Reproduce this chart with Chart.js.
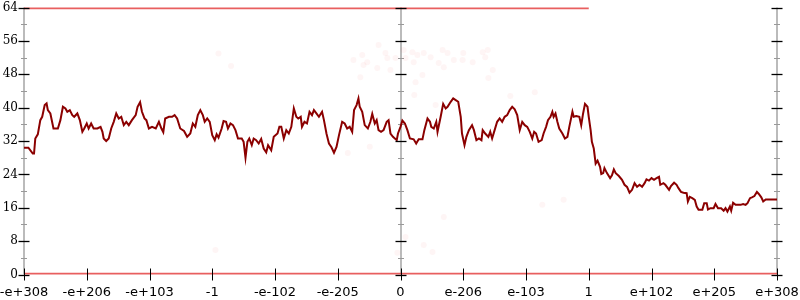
<!DOCTYPE html>
<html>
<head>
<meta charset="utf-8">
<script src="https://cdn.jsdelivr.net/npm/chart.js@4/dist/chart.umd.min.js"></script>
<style>
  body{margin:0;background:#fff}
</style>
</head>
<body>
<canvas id="grafica" width="800" height="300"></canvas>
<script>
let xLabels = ['-e+308','-e+206','-e+103','-1','-e-102','-e-205','0','e-206','e-103','1','e+102','e+205','e+308']
let yTicks = [0,8,16,24,32,40,48,56,64]

// the dark red line, x in label steps (-6 .. 6)
let lineX = [
  -6.00,-5.93,-5.86,-5.84,-5.82,-5.78,-5.74,-5.71,-5.67,-5.64,
  -5.62,-5.58,-5.53,-5.46,-5.42,-5.38,-5.34,-5.31,-5.27,-5.23,
  -5.20,-5.15,-5.11,-5.07,-5.04,-5.00,-4.97,-4.93,-4.89,-4.83,
  -4.78,-4.75,-4.73,-4.69,-4.65,-4.61,-4.57,-4.53,-4.49,-4.45,
  -4.41,-4.37,-4.33,-4.28,-4.22,-4.19,-4.15,-4.12,-4.08,-4.05,
  -4.01,-3.96,-3.90,-3.85,-3.81,-3.78,-3.75,-3.69,-3.64,-3.60,
  -3.56,-3.51,-3.45,-3.40,-3.35,-3.31,-3.27,-3.23,-3.19,-3.15,
  -3.12,-3.08,-3.04,-3.00,-2.96,-2.93,-2.90,-2.85,-2.82,-2.78,
  -2.75,-2.71,-2.67,-2.63,-2.59,-2.53,-2.50,-2.47,-2.44,-2.41,
  -2.37,-2.34,-2.30,-2.26,-2.22,-2.18,-2.14,-2.11,-2.06,-2.02,
  -1.96,-1.93,-1.90,-1.86,-1.82,-1.78,-1.74,-1.70,-1.66,-1.63,
  -1.59,-1.57,-1.53,-1.49,-1.45,-1.41,-1.38,-1.34,-1.30,-1.25,
  -1.22,-1.18,-1.14,-1.10,-1.06,-1.02,-0.98,-0.93,-0.89,-0.85,
  -0.81,-0.77,-0.74,-0.70,-0.67,-0.65,-0.61,-0.57,-0.52,-0.48,
  -0.45,-0.41,-0.38,-0.35,-0.31,-0.27,-0.22,-0.19,-0.16,-0.12,
  -0.06,-0.04,0.00,0.03,0.07,0.11,0.15,0.21,0.25,0.29,
  0.35,0.38,0.43,0.47,0.49,0.53,0.57,0.59,0.64,0.68,
  0.72,0.75,0.80,0.84,0.88,0.92,0.96,0.98,1.02,1.05,
  1.09,1.14,1.17,1.21,1.25,1.29,1.31,1.35,1.40,1.43,
  1.46,1.50,1.54,1.58,1.62,1.66,1.70,1.74,1.78,1.82,
  1.86,1.90,1.94,1.98,2.02,2.06,2.10,2.13,2.16,2.20,
  2.25,2.28,2.32,2.35,2.39,2.42,2.44,2.47,2.50,2.53,
  2.58,2.62,2.66,2.69,2.74,2.76,2.80,2.85,2.88,2.91,
  2.94,2.98,3.00,3.03,3.05,3.08,3.11,3.14,3.18,3.20,
  3.23,3.25,3.29,3.34,3.37,3.40,3.43,3.48,3.53,3.57,
  3.61,3.65,3.69,3.73,3.77,3.81,3.85,3.89,3.92,3.96,
  4.00,4.04,4.08,4.12,4.14,4.19,4.22,4.28,4.31,4.36,
  4.40,4.43,4.47,4.51,4.56,4.58,4.61,4.65,4.69,4.72,
  4.75,4.81,4.84,4.88,4.90,4.94,4.99,5.02,5.06,5.11,
  5.15,5.18,5.21,5.25,5.27,5.30,5.34,5.38,5.42,5.46,
  5.50,5.53,5.57,5.60,5.64,5.68,5.71,5.75,5.78,5.82,6.00
]
let lineY = [
  30.4,30.4,29.0,29.0,32.6,33.6,37.0,37.8,40.6,41.0,
  39.4,38.6,35.0,35.0,37.0,40.2,39.8,39.0,39.4,38.2,
  37.8,38.6,37.0,34.2,35.0,36.2,35.0,36.2,35.0,35.0,
  35.4,34.2,32.6,32.0,32.6,35.0,36.6,38.6,37.4,37.8,
  35.8,36.6,35.8,37.0,38.2,40.2,41.3,39.0,37.4,37.0,
  35.0,35.4,35.0,36.6,35.0,34.1,37.4,37.8,37.8,38.2,
  37.4,35.0,34.4,33.0,33.8,36.2,35.4,38.2,39.4,38.2,
  36.6,37.4,36.6,33.4,32.2,33.6,32.8,35.0,36.8,36.6,
  35.0,36.2,35.8,34.6,32.6,32.6,31.8,28.0,31.8,32.6,
  31.0,32.6,32.2,31.4,32.5,30.2,29.3,31.0,29.8,33.0,
  33.8,35.4,35.4,32.6,34.6,33.8,35.4,39.8,37.8,37.4,
  37.8,35.4,36.6,36.2,39.0,38.2,39.4,38.6,37.8,39.0,
  37.0,33.8,31.4,30.5,29.2,30.6,33.4,36.6,36.2,35.0,
  35.4,34.2,39.4,40.6,42.2,40.2,39.0,35.8,35.0,36.6,
  38.5,36.2,37.0,34.6,34.2,34.6,36.6,37.0,33.8,33.0,
  32.2,33.8,35.4,36.9,36.2,34.6,32.6,32.4,31.4,32.4,
  32.4,34.6,37.4,36.6,35.4,35.0,36.6,34.2,37.8,40.9,
  39.8,40.2,41.4,42.2,41.8,41.4,37.8,33.8,31.0,33.0,
  34.6,35.8,34.6,32.2,32.6,32.2,34.6,33.8,33.0,34.2,
  32.6,34.6,36.6,37.4,36.6,37.8,38.2,39.4,40.2,39.6,
  38.2,34.6,36.6,35.8,35.4,34.2,32.6,34.2,33.8,31.8,
  32.2,33.8,35.4,37.0,37.8,39.0,37.8,38.6,36.6,35.0,
  33.8,32.6,33.0,35.4,39.0,37.8,38.0,37.8,35.8,38.6,
  40.9,40.2,37.8,34.6,31.8,30.2,26.6,27.3,25.8,24.1,
  24.3,25.5,24.3,23.1,23.8,25.2,24.3,23.6,22.7,21.5,
  21.0,19.6,20.3,21.9,21.0,21.5,21.0,21.9,22.8,22.5,
  23.1,22.7,23.1,23.4,21.5,21.9,21.5,20.3,21.2,22.0,
  21.5,20.7,19.8,19.6,19.5,17.5,18.6,18.3,17.9,16.3,
  15.5,15.5,17.1,17.1,15.6,15.9,15.9,16.9,15.9,15.9,
  15.3,15.9,15.1,16.3,15.3,17.2,16.7,16.7,16.7,16.9,
  16.7,17.1,18.3,18.5,18.8,19.8,19.3,18.5,17.5,18.0,18.0
]

// faint pink scatter
let dotX = [-0.75,-0.61,-0.59,-0.53,-0.35,-0.37,-0.24,-0.21,-0.16,-0.08,0.05,0.08,0.19,0.21,0.27,0.35,0.24,0.37,0.48,0.61,
  0.67,0.75,0.69,0.85,0.99,1.00,1.15,1.31,1.39,1.35,1.47,1.40,-0.64,-0.84,-0.49,0.22,0.56,1.75,2.14,0.08,
  0.37,0.51,-0.05,2.60,2.26,0.69,-2.95,-2.90,-2.70]
let dotY = [51.4,52.6,50.2,50.9,55.0,49.5,53.1,51.9,49.0,51.9,53.8,51.9,53.3,50.9,52.6,47.8,46.1,53.1,52.1,50.7,
  53.8,53.1,49.7,51.4,51.4,53.1,50.9,53.3,53.8,52.1,49.0,47.1,47.3,29.1,30.6,43.0,40.6,42.8,43.7,9.0,
  7.1,5.4,5.2,17.9,16.7,13.8,5.9,53.0,50.0]

// the dense pink bands at the top and bottom
let topBandX = [-6, 3]
let topBandY = [64, 64]
let bottomBandX = [-6, 6]
let bottomBandY = [0, 0]

function pts(xs, ys){
  return xs.map((x,i)=>({x:x, y:ys[i]}))
}

// gray axes at -6, 0, 6 go under the data, the black ticks on top
const axesPlugin = {
  id: 'axes',
  beforeDatasetsDraw(chart){
    let ctx = chart.ctx
    let sx = chart.scales.x, sy = chart.scales.y
    let top = sy.getPixelForValue(64), bot = sy.getPixelForValue(0)
    ctx.save();
    [-6, 0, 6].forEach(v => {
      let px = Math.round(sx.getPixelForValue(v))
      ctx.strokeStyle = '#bbbbbb'
      ctx.lineWidth = 2
      ctx.beginPath(); ctx.moveTo(px, top); ctx.lineTo(px, bot); ctx.stroke()
      for (let t = 4; t < 64; t += 8) {
        let py = Math.round(sy.getPixelForValue(t)) + 0.5
        ctx.strokeStyle = '#999'
        ctx.lineWidth = 1
        ctx.beginPath(); ctx.moveTo(px - 3, py); ctx.lineTo(px + 3, py); ctx.stroke()
      }
    })
    ctx.restore()
  },
  afterDatasetsDraw(chart){
    let ctx = chart.ctx
    let sx = chart.scales.x, sy = chart.scales.y
    let bot = sy.getPixelForValue(0)
    ctx.save();
    [-6, 0, 6].forEach(v => {
      let px = Math.round(sx.getPixelForValue(v))
      yTicks.forEach(t => {
        let py = Math.round(sy.getPixelForValue(t)) + 0.5
        ctx.strokeStyle = '#000'
        ctx.lineWidth = 1.3
        ctx.beginPath(); ctx.moveTo(px - 5.5, py); ctx.lineTo(px + 5.5, py); ctx.stroke()
      })
    })
    xLabels.forEach((l, i) => {
      let px = Math.round(sx.getPixelForValue(i - 6)) + 0.5
      ctx.strokeStyle = '#000'
      ctx.lineWidth = 1
      ctx.beginPath(); ctx.moveTo(px, bot - 6); ctx.lineTo(px, bot + 6); ctx.stroke()
    })
    ctx.restore()
  }
}

let canvas = document.getElementById('grafica').getContext('2d')
window.chart = new Chart(canvas, {
  type: 'scatter',
  data: {
    datasets: [
      { type: 'line', data: pts(topBandX, topBandY), borderColor: 'rgba(226,55,55,0.8)', borderWidth: 3.5, pointRadius: 0, order: 3 },
      { type: 'line', data: pts(bottomBandX, bottomBandY), borderColor: 'rgba(226,55,55,0.8)', borderWidth: 3.5, pointRadius: 0, order: 3 },
      { data: pts(dotX, dotY), backgroundColor: 'rgba(235,60,60,0.05)', borderWidth: 0, pointRadius: 3, order: 2 },
      { type: 'line', data: pts(lineX, lineY), borderColor: '#8b0000', borderWidth: 2, pointRadius: 0, tension: 0, order: 1 }
    ]
  },
  options: {
    responsive: false,
    animation: false,
    events: [],
    layout: { padding: { top: 7.5, right: 23, left: 0, bottom: 0 } },
    plugins: { legend: { display: false }, tooltip: { enabled: false } },
    scales: {
      x: {
        type: 'linear', min: -6, max: 6,
        grid: { display: false, drawTicks: false },
        border: { display: false },
        afterFit: s => { s.height = 25.5; s.paddingLeft = 0; s.paddingRight = 0 },
        afterBuildTicks: s => { s.ticks = xLabels.map((l, i) => ({ value: i - 6 })) },
        ticks: {
          autoSkip: false, maxRotation: 0, padding: 10,
          color: '#000',
          font: { family: 'DejaVu Sans', size: 13 },
          callback: v => xLabels[Math.round(v) + 6]
        }
      },
      y: {
        min: 0, max: 64,
        grid: { display: false, drawTicks: false },
        border: { display: false },
        afterFit: s => { s.width = 24; s.paddingTop = 0; s.paddingBottom = 0 },
        afterBuildTicks: s => { s.ticks = yTicks.map(v => ({ value: v })) },
        ticks: {
          padding: 6, color: '#000',
          font: { family: 'DejaVu Serif', size: 12 }
        }
      }
    }
  },
  plugins: [axesPlugin]
})
</script>
</body>
</html>
